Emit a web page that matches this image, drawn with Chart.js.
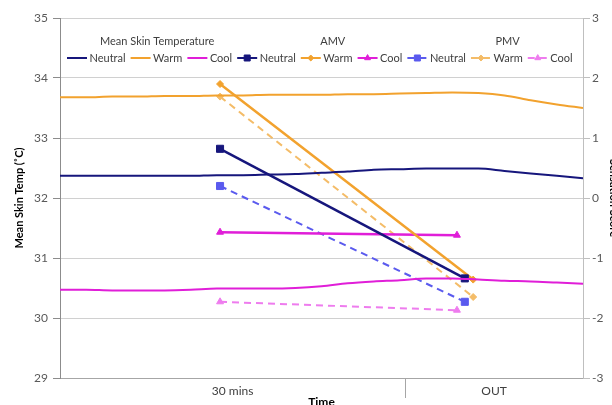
<!DOCTYPE html>
<html>
<head>
<meta charset="utf-8">
<script src="https://cdn.jsdelivr.net/npm/chart.js@4"></script>
<style>
  body { margin: 0; background: #fff; }
  #wrap { width: 612px; height: 405px; }
</style>
</head>
<body>
<div id="wrap"><canvas id="myChart"></canvas></div>
<script>
// time runs 0-100 across the session, skin temp sampled every 5
var sampleTimes = [0, 5, 10, 15, 20, 25, 30, 35, 40, 45, 50, 55, 60, 65, 70, 75, 80, 85, 90, 95, 100];
var skinNeutral = [32.37, 32.37, 32.37, 32.37, 32.37, 32.37, 32.38, 32.38, 32.39, 32.40, 32.42, 32.44, 32.47, 32.48, 32.49, 32.49, 32.49, 32.45, 32.41, 32.37, 32.33];
var skinWarm = [33.68, 33.68, 33.69, 33.69, 33.70, 33.70, 33.71, 33.71, 33.72, 33.72, 33.72, 33.73, 33.73, 33.74, 33.75, 33.76, 33.75, 33.71, 33.63, 33.56, 33.50];
var skinCool = [30.47, 30.47, 30.46, 30.46, 30.46, 30.47, 30.49, 30.49, 30.49, 30.50, 30.53, 30.58, 30.61, 30.63, 30.66, 30.66, 30.64, 30.62, 30.61, 30.59, 30.57];

// votes: taken at 30 mins and OUT
var neutralVoteTimes = [30.6, 77.4];
var warmVoteTimes = [30.6, 79.0];
var coolVoteTimes = [30.6, 75.9];
var amvNeutral = [0.82, -1.34];
var amvWarm = [1.90, -1.36];
var amvCool = [-0.57, -0.62];
var pmvNeutral = [0.20, -1.73];
var pmvWarm = [1.69, -1.65];
var pmvCool = [-1.73, -1.87];

// x axis: phase labels and the divider between them
var timeLabels = ['30 mins', 'OUT'];
var timeLabelTimes = [33, 83];
var phaseSplit = 66;

var legendGroups = [
    { title: 'Mean Skin Temperature', offset: 33, items: [0, 1, 2] },
    { title: 'AMV', offset: 83, items: [3, 4, 5] },
    { title: 'PMV', offset: 88, items: [6, 7, 8] }
];

function pts(xs, ys) {
    return xs.map(function(x, i) { return { x: x, y: ys[i] }; });
}

var navy = '#16167C', orange = '#F2A22E', magenta = '#E01ED8';
var blue = '#5A5AEE', lightOrange = '#F4BC68', pink = '#EE7CEE';

function skinSet(label, data, color) {
    return {
        label: label, data: pts(sampleTimes, data), yAxisID: 'y',
        borderColor: color, borderWidth: 2, pointRadius: 0,
        tension: 0.4, cubicInterpolationMode: 'monotone'
    };
}
function voteSet(label, xs, data, color, style, radius, dashed) {
    return {
        label: label, data: pts(xs, data), yAxisID: 'y2',
        borderColor: color, backgroundColor: color,
        borderWidth: dashed ? 2 : 2.5, borderDash: dashed ? [7, 5] : [],
        pointStyle: style, pointRadius: radius,
        pointBackgroundColor: color, pointBorderColor: color, pointBorderWidth: 1,
        tension: 0
    };
}

var groupLegend = {
    id: 'groupLegend',
    afterDraw: function(chart) {
        var ctx = chart.ctx;
        var area = chart.chartArea;
        var itemY = area.top + 40;
        var titleY = area.top + 23;
        var x = area.left + 7;
        ctx.save();
        ctx.font = '11px Lato';
        ctx.textBaseline = 'middle';
        legendGroups.forEach(function(group) {
            var start = x;
            group.items.forEach(function(i) {
                var ds = chart.data.datasets[i];
                ctx.strokeStyle = ds.borderColor;
                ctx.lineWidth = 2;
                ctx.setLineDash(ds.borderDash || []);
                ctx.beginPath();
                ctx.moveTo(x, itemY);
                ctx.lineTo(x + 20, itemY);
                ctx.stroke();
                ctx.setLineDash([]);
                if (ds.pointRadius) {
                    ctx.fillStyle = ds.pointBackgroundColor;
                    ctx.lineWidth = 1;
                    Chart.helpers.drawPoint(ctx, {
                        pointStyle: ds.pointStyle, radius: ds.pointRadius * 0.85,
                        rotation: 0, borderWidth: 1
                    }, x + 10, itemY);
                }
                ctx.fillStyle = '#404040';
                ctx.textAlign = 'left';
                ctx.fillText(ds.label, x + 22.5, itemY);
                x += 22.5 + ctx.measureText(ds.label).width + 5;
            });
            ctx.fillStyle = '#404040';
            ctx.fillText(group.title, start + group.offset, titleY);
        });
        ctx.restore();
    }
};

var ctx = document.getElementById('myChart').getContext('2d');
var myChart = new Chart(ctx, {
    type: 'line',
    data: {
        datasets: [
            skinSet('Neutral', skinNeutral, navy),
            skinSet('Warm', skinWarm, orange),
            skinSet('Cool', skinCool, magenta),
            voteSet('Neutral', neutralVoteTimes, amvNeutral, navy, 'rect', 5, false),
            voteSet('Warm', warmVoteTimes, amvWarm, orange, 'rectRot', 3.5, false),
            voteSet('Cool', coolVoteTimes, amvCool, magenta, 'triangle', 4, false),
            voteSet('Neutral', neutralVoteTimes, pmvNeutral, blue, 'rect', 5, true),
            voteSet('Warm', warmVoteTimes, pmvWarm, lightOrange, 'rectRot', 3.5, true),
            voteSet('Cool', coolVoteTimes, pmvCool, pink, 'triangle', 4, true)
        ]
    },
    options: {
        responsive: true,
        maintainAspectRatio: false,
        animation: false,
        layout: { padding: { top: 18, left: 0, right: 0, bottom: 0 } },
        plugins: {
            legend: { display: false },
            tooltip: { enabled: false }
        },
        scales: {
            x: {
                type: 'linear',
                min: 0,
                max: 100,
                afterBuildTicks: function(scale) {
                    scale.ticks = [
                        { value: timeLabelTimes[0] },
                        { value: phaseSplit },
                        { value: timeLabelTimes[1] }
                    ];
                },
                afterFit: function(scale) { scale.height = 27; },
                grid: {
                    drawOnChartArea: false,
                    tickLength: 20,
                    tickColor: function(c) {
                        return c.tick && c.tick.value === phaseSplit ? '#A6A6A6' : 'rgba(0,0,0,0)';
                    }
                },
                border: { color: '#A6A6A6' },
                ticks: {
                    autoSkip: false,
                    maxRotation: 0,
                    padding: -14,
                    color: '#404040',
                    font: { family: 'Lato', size: 12 },
                    callback: function(value) {
                        var i = timeLabelTimes.indexOf(value);
                        return i >= 0 ? timeLabels[i] : '';
                    }
                },
                title: {
                    display: true,
                    text: 'Time',
                    color: '#000',
                    font: { family: 'Lato', size: 12, weight: 'bold' },
                    padding: { top: 0, bottom: -4 }
                }
            },
            y: {
                position: 'left',
                min: 29,
                max: 35,
                afterFit: function(scale) { scale.width = 60; },
                grid: { color: '#D0D0D0', tickColor: '#8C8C8C', tickLength: 7 },
                border: { color: '#8C8C8C' },
                ticks: {
                    stepSize: 1,
                    padding: 5,
                    color: '#595959',
                    font: { family: 'Lato', size: 12 }
                },
                title: {
                    display: true,
                    text: 'Mean Skin Temp (˚C)',
                    color: '#000',
                    font: { family: 'Lato', size: 11, weight: 'bold' },
                    padding: { top: 13, bottom: 0 }
                }
            },
            y2: {
                position: 'right',
                min: -3,
                max: 3,
                afterFit: function(scale) { scale.width = 29; },
                grid: { drawOnChartArea: false, tickColor: '#BFBFBF', tickLength: 7 },
                border: { color: '#BFBFBF' },
                ticks: {
                    stepSize: 1,
                    padding: 2,
                    color: '#595959',
                    font: { family: 'Lato', size: 12 }
                },
                title: {
                    display: true,
                    text: 'Sensation Score',
                    color: '#000',
                    font: { family: 'Lato', size: 11, weight: 'bold' },
                    padding: { top: -8, bottom: 0 }
                }
            }
        }
    },
    plugins: [groupLegend]
});
</script>
</body>
</html>
